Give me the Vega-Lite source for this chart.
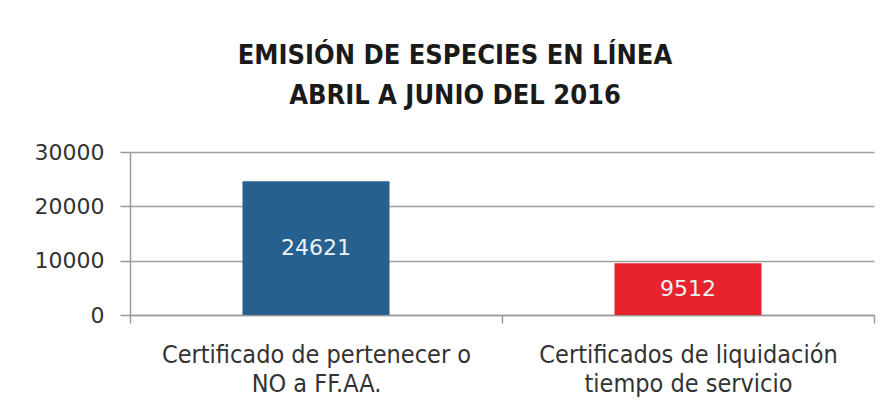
{
  "$schema": "https://vega.github.io/schema/vega-lite/v6.json",
  "width": 744,
  "height": 163,
  "autosize": {"type": "none"},
  "padding": {"left": 130, "top": 152, "right": 18, "bottom": 101},
  "background": "white",
  "title": {
    "text": ["EMISIÓN DE ESPECIES EN LÍNEA", "ABRIL A JUNIO DEL 2016"],
    "font": "Liberation Sans Narrow, DejaVu Sans Condensed, sans-serif",
    "fontSize": 27,
    "fontWeight": "bold",
    "color": "#1a1a1a",
    "anchor": "middle",
    "dx": -47,
    "offset": 31,
    "lineHeight": 40
  },
  "data": {
    "values": [
      {"cat": "Certificado de pertenecer o|NO a FF.AA.", "value": 24621, "color": "#25608f"},
      {"cat": "Certificados de liquidación|tiempo de servicio", "value": 9512, "color": "#e8232d"}
    ]
  },
  "transform": [{"calculate": "datum.value / 2", "as": "mid"}],
  "encoding": {
    "x": {
      "field": "cat",
      "type": "nominal",
      "sort": null,
      "scale": {"paddingInner": 0, "paddingOuter": 0},
      "axis": {
        "title": null,
        "labelAngle": 0,
        "labelExpr": "split(datum.label, '|')",
        "labelLimit": 0,
        "labelFont": "DejaVu Sans Condensed, sans-serif",
        "labelFontSize": 25,
        "labelColor": "#333333",
        "labelLineHeight": 29,
        "labelPadding": 19,
        "labelBaseline": "top",
        "tickBand": "extent",
        "tickSize": 8,
        "tickColor": "#999999",
        "tickWidth": 1.5,
        "domainColor": "#999999",
        "domainWidth": 1.5,
        "grid": false
      }
    }
  },
  "layer": [
    {
      "mark": {"type": "bar", "width": 147},
      "encoding": {
        "y": {
          "field": "value",
          "type": "quantitative",
          "scale": {"domain": [0, 30000], "nice": false},
          "axis": {
            "title": null,
            "values": [0, 10000, 20000, 30000],
            "format": "d",
            "labelFont": "DejaVu Sans, Verdana, sans-serif",
            "labelFontSize": 22,
            "labelColor": "#333333",
            "labelPadding": 16,
            "tickSize": 10,
            "tickColor": "#999999",
            "tickWidth": 1.5,
            "domainColor": "#999999",
            "domainWidth": 1.5,
            "gridColor": "#a0a0a0",
            "gridWidth": 1.5
          }
        },
        "color": {"field": "color", "type": "nominal", "scale": null, "legend": null}
      }
    },
    {
      "mark": {
        "type": "text",
        "font": "DejaVu Sans, Verdana, sans-serif",
        "fontSize": 22,
        "color": "#eef2f6",
        "baseline": "middle",
        "align": "center"
      },
      "encoding": {
        "y": {"field": "mid", "type": "quantitative"},
        "text": {"field": "value", "type": "quantitative", "format": "d"}
      }
    }
  ],
  "config": {"view": {"stroke": null}}
}
